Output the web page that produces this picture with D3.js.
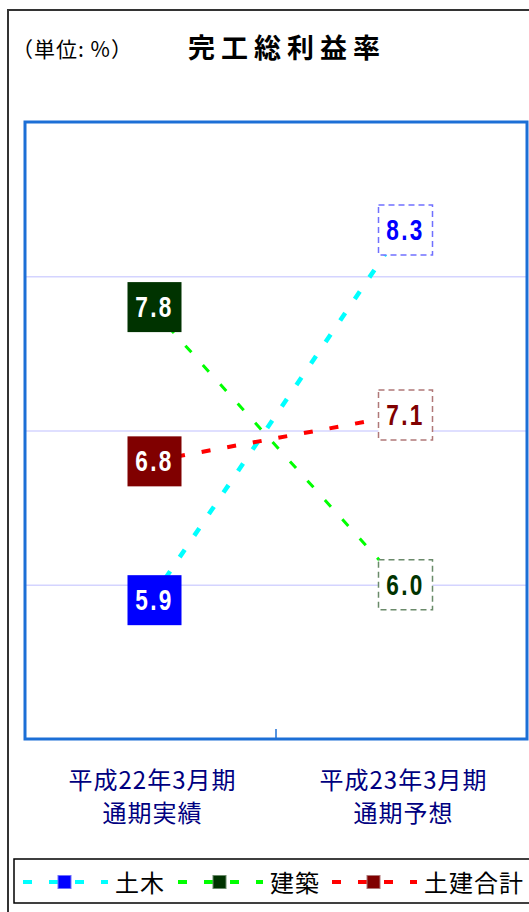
<!DOCTYPE html>
<html>
<head>
<meta charset="utf-8">
<script src="https://cdn.jsdelivr.net/npm/d3@7"></script>
<style>
  body { margin: 0; background: #fff; }
  svg { display: block; font-family: 'Noto Sans CJK JP', 'Noto Sans', sans-serif; }
</style>
</head>
<body>
<div id="chart"></div>
<script>
// Data
const categories = ['平成22年3月期|通期実績', '平成23年3月期|通期予想'];
const seriesNames = ['土木', '建築', '土建合計'];
const dobokuValues = [5.9, 8.3];
const kenchikuValues = [7.8, 6.0];
const totalValues = [6.8, 7.1];
const gridValues = [6, 7, 8];

const series = [
  { name: seriesNames[0], values: dobokuValues, line: '#00ffff', marker: '#0000ff', border: '#7070ff', width: 4.5 },
  { name: seriesNames[1], values: kenchikuValues, line: '#00ff00', marker: '#003300', border: '#6a8a6a', width: 3 },
  { name: seriesNames[2], values: totalValues, line: '#ff0000', marker: '#800000', border: '#b07878', width: 4 },
];

const width = 529;
const height = 912;
const plot = { l: 25, r: 527, t: 122, b: 739 };

const svg = d3
  .select('#chart')
  .append('svg')
  .attr('width', width)
  .attr('height', height);

// outer frame
svg
  .append('rect')
  .attr('x', 8)
  .attr('y', 10)
  .attr('width', 560)
  .attr('height', 940)
  .attr('fill', 'white')
  .attr('stroke', '#333')
  .attr('stroke-width', 2);

// titles
svg
  .append('text')
  .attr('x', 12)
  .attr('y', 57)
  .attr('font-size', '21px')
  .attr('letter-spacing', '1px')
  .attr('fill', '#000')
  .text('（単位: %）');

svg
  .append('text')
  .attr('x', 287)
  .attr('y', 58)
  .attr('text-anchor', 'middle')
  .attr('font-size', '27px')
  .attr('font-weight', 'bold')
  .attr('letter-spacing', '6px')
  .attr('fill', '#000')
  .text('完工総利益率');

// scales
const x = d3.scaleBand().domain(categories).range([plot.l, plot.r]);
const y = d3.scaleLinear().domain([5, 9]).range([plot.b, plot.t]);
const cx = (i) => x(categories[i]) + x.bandwidth() / 2;

// gridlines
svg
  .append('g')
  .attr('transform', `translate(${plot.l},0)`)
  .call(d3.axisLeft(y).tickValues(gridValues).tickSize(-(plot.r - plot.l)).tickFormat(''))
  .call((g) => g.select('.domain').remove())
  .call((g) => g.selectAll('.tick line').attr('stroke', '#d4d4ff').attr('stroke-width', 1.5));

// plot area border
svg
  .append('rect')
  .attr('x', plot.l)
  .attr('y', plot.t)
  .attr('width', plot.r - plot.l)
  .attr('height', plot.b - plot.t)
  .attr('fill', 'none')
  .attr('stroke', '#1c6fd6')
  .attr('stroke-width', 3);

// middle tick between categories
svg
  .append('line')
  .attr('x1', x(categories[1]))
  .attr('x2', x(categories[1]))
  .attr('y1', plot.b - 10)
  .attr('y2', plot.b)
  .attr('stroke', '#1c6fd6')
  .attr('stroke-width', 1.5);

// category labels
categories.forEach((c, i) => {
  const lines = c.split('|');
  const t = svg
    .append('text')
    .attr('text-anchor', 'middle')
    .attr('font-size', '24px')
    .attr('letter-spacing', '1px')
    .attr('fill', '#000080');
  lines.forEach((s, j) => {
    t.append('tspan')
      .attr('x', cx(i) + 2)
      .attr('y', 789 + j * 33)
      .text(s);
  });
});

// lines
const line = d3
  .line()
  .x((d, i) => cx(i))
  .y((d) => y(d));

series.forEach((s) => {
  svg
    .append('path')
    .datum(s.values)
    .attr('d', line)
    .attr('fill', 'none')
    .attr('stroke', s.line)
    .attr('stroke-width', s.width)
    .attr('stroke-dasharray', '9,17');
});

// data labels
const boxW = 54;
const boxH = 50;
series.forEach((s) => {
  s.values.forEach((v, i) => {
    const bx = cx(i) + 4;
    const by = y(v);
    const filled = i === 0;
    svg
      .append('rect')
      .attr('x', bx - boxW / 2)
      .attr('y', by - boxH / 2)
      .attr('width', boxW)
      .attr('height', boxH)
      .attr('fill', filled ? s.marker : 'white')
      .attr('stroke', filled ? 'none' : s.border)
      .attr('stroke-width', 1.5)
      .attr('stroke-dasharray', filled ? null : '6,4');
    svg
      .append('text')
      .attr('transform', `translate(${bx},${by + 10}) scale(0.78,1)`)
      .attr('text-anchor', 'middle')
      .attr('font-family', "'Liberation Sans', sans-serif")
      .attr('font-size', '29px')
      .attr('font-weight', 'bold')
      .attr('letter-spacing', '3px')
      .attr('fill', filled ? 'white' : s.marker)
      .text(v.toFixed(1));
  });
});

// legend
const legend = svg.append('g').attr('class', 'legend');
legend
  .append('rect')
  .attr('x', 14)
  .attr('y', 859)
  .attr('width', 560)
  .attr('height', 44)
  .attr('fill', 'white')
  .attr('stroke', '#000')
  .attr('stroke-width', 1.5);

const legendX = [23, 178, 332];
series.forEach((s, i) => {
  const lx = legendX[i];
  const ly = 882;
  legend
    .append('line')
    .attr('x1', lx)
    .attr('x2', lx + 85)
    .attr('y1', ly)
    .attr('y2', ly)
    .attr('stroke', s.line)
    .attr('stroke-width', 4)
    .attr('stroke-dasharray', '9,17');
  legend
    .append('rect')
    .attr('x', lx + 35)
    .attr('y', ly - 6.5)
    .attr('width', 13)
    .attr('height', 13)
    .attr('fill', s.marker)
    .attr('stroke', s.border)
    .attr('stroke-width', 1);
  legend
    .append('text')
    .attr('x', lx + 92)
    .attr('y', ly + 10)
    .attr('font-size', '24px')
    .attr('letter-spacing', '1px')
    .attr('fill', '#000')
    .text(s.name);
});
</script>
</body>
</html>
